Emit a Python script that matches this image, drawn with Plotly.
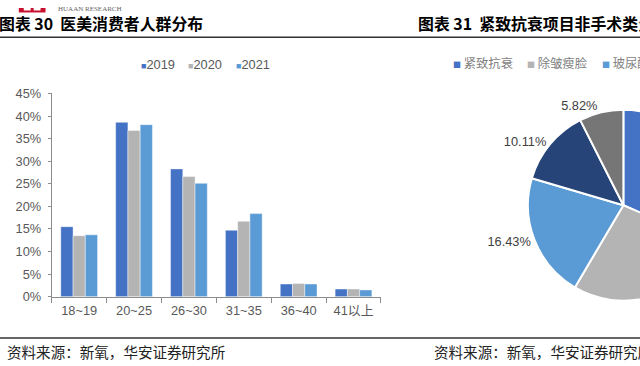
import plotly.graph_objects as go

# ---------------- data ----------------
age_groups = ["18~19", "20~25", "26~30", "31~35", "36~40", "41以上"]
share_2019 = [15.5, 38.6, 28.3, 14.7, 2.8, 1.7]
share_2020 = [13.5, 36.8, 26.6, 16.7, 2.9, 1.7]
share_2021 = [13.7, 38.1, 25.1, 18.4, 2.8, 1.5]
years = ["2019", "2020", "2021"]

pie_labels = ["紧致抗衰", "除皱瘦脸", "玻尿酸填充", "光子嫩肤", "其他"]
pie_values = [24.6, 21.0, 16.43, 10.11, 5.82]

y_ticks = [0, 5, 10, 15, 20, 25, 30, 35, 40, 45]

# ---------------- layout helpers ----------------
# The page is wider than the window (the right pie is cut by the window edge);
# positions below are given in window pixels and mapped to paper coordinates.
W, H = 760, 366
SX, SY, OY = 0.992, 0.965, 6.5
def px(x):
    return x / SX / W
def py(y):
    return 1 - (y - OY) / SY / H
FS = 1.025  # font compensation

bar_colors = ["#4472C4", "#B4B4B4", "#5B9BD5"]
pie_colors = ["#4472C4", "#B4B4B4", "#5B9BD5", "#264478", "#767676"]
FONT = "Liberation Sans, Arial, sans-serif"
CJK = "Noto Sans CJK SC"

fig = go.Figure()
for name, vals, col in zip(years, [share_2019, share_2020, share_2021], bar_colors):
    fig.add_trace(go.Bar(x=age_groups, y=vals, name=name, marker_color=col,
                         marker_line_width=0.6, marker_line_color="rgba(255,255,255,0.7)",
                         showlegend=False))

pcx, pcy, pr = 630 / SX, (205 - OY) / SY, 99.5
fig.add_trace(go.Pie(labels=pie_labels, values=pie_values, sort=False,
                     direction="clockwise", rotation=0,
                     marker=dict(colors=pie_colors, line=dict(color="white", width=2)),
                     texttemplate="%{value:.2f}%", textposition="outside",
                     textfont=dict(family=FONT, size=12.5 * FS, color="#404040"),
                     domain=dict(x=[(pcx - pr) / W, (pcx + pr) / W],
                                 y=[1 - (pcy + pr) / H, 1 - (pcy - pr) / H]),
                     showlegend=False, hoverinfo="label+value"))

fig.update_layout(
    width=W, height=H,
    margin=dict(l=0, r=0, t=0, b=0),
    paper_bgcolor="white", plot_bgcolor="white",
    barmode="group", bargap=0.33, bargroupgap=0,
    xaxis=dict(domain=[px(52.3), px(385)], showline=True, linecolor="#8C8C8C", linewidth=1,
               ticks="outside", tickson="boundaries", ticklen=5, tickcolor="#8C8C8C",
               ticklabelstandoff=2,
               tickfont=dict(family=FONT + ", " + CJK, size=12.5 * FS, color="#595959"),
               showgrid=False, fixedrange=True),
    yaxis=dict(domain=[py(297), py(92.5)], range=[0, 45], tickvals=y_ticks,
               ticktext=[f"{t}%" for t in y_ticks],
               showline=True, linecolor="#8C8C8C", linewidth=1,
               ticks="outside", ticklen=3, tickcolor="#8C8C8C", ticklabelstandoff=4,
               tickfont=dict(family=FONT, size=12.5 * FS, color="#595959"),
               showgrid=False, zeroline=False, fixedrange=True),
)

# legend for bar chart (manual, compact)
leg_x = [140, 188, 236]
for name, col, x0 in zip(years, bar_colors, leg_x):
    fig.add_annotation(x=px(x0), y=py(63), xref="paper", yref="paper", xanchor="left", yanchor="middle",
                       showarrow=False,
                       text=f'<span style="font-size:9px;color:{col}">■</span>{name}',
                       font=dict(family=FONT, size=12.5 * FS, color="#595959"))

# legend for pie (manual; only the entries that fit in the window)
pie_leg_x = [456, 531, 606]
for lab, col, x0 in zip(pie_labels[:3], pie_colors[:3], pie_leg_x):
    fig.add_annotation(x=px(x0), y=py(62), xref="paper", yref="paper", xanchor="left", yanchor="middle",
                       showarrow=False,
                       text=f'<span style="font-size:8px;color:{col}">■</span> {lab}',
                       font=dict(family=CJK, size=12 * FS, color="#7F7F7F"))

# titles
fig.add_annotation(x=px(-3), y=py(22.5), xref="paper", yref="paper", xanchor="left", yanchor="middle",
                   showarrow=False, text="<b>图表 30  医美消费者人群分布</b>",
                   font=dict(family=CJK, size=15.5 * FS, color="#000000"))
fig.add_annotation(x=px(420), y=py(22.5), xref="paper", yref="paper", xanchor="left", yanchor="middle",
                   showarrow=False, text="<b>图表 31  紧致抗衰项目非手术类分布</b>",
                   font=dict(family=CJK, size=15.5 * FS, color="#000000"))

# footers
fig.add_annotation(x=px(5), y=py(352), xref="paper", yref="paper", xanchor="left", yanchor="middle",
                   showarrow=False, text="资料来源：新氧，华安证券研究所",
                   font=dict(family=CJK, size=14.2 * FS, color="#222222"))
fig.add_annotation(x=px(437), y=py(352), xref="paper", yref="paper", xanchor="left", yanchor="middle",
                   showarrow=False, text="资料来源：新氧，华安证券研究所",
                   font=dict(family=CJK, size=14.2 * FS, color="#222222"))

# header logo + rules
fig.add_shape(type="rect", xref="paper", yref="paper", x0=px(19), x1=px(46), y0=py(11), y1=1,
              fillcolor="#C8102E", line_width=0)
fig.add_shape(type="rect", xref="paper", yref="paper", x0=px(24), x1=px(31), y0=py(9), y1=1,
              fillcolor="white", line_width=0)
fig.add_shape(type="rect", xref="paper", yref="paper", x0=px(34), x1=px(41), y0=py(9), y1=1,
              fillcolor="white", line_width=0)
fig.add_annotation(x=px(57), y=py(8), xref="paper", yref="paper", xanchor="left", yanchor="middle",
                   showarrow=False, text="HUAAN RESEARCH",
                   font=dict(family="Liberation Serif", size=7, color="#666666"))
fig.add_shape(type="line", xref="paper", yref="paper", x0=0, x1=1, y0=py(36), y1=py(36),
              line=dict(color="#333333", width=1.5))
fig.add_shape(type="line", xref="paper", yref="paper", x0=0, x1=1, y0=py(338.5), y1=py(338.5),
              line=dict(color="#333333", width=1.5))

fig.write_html("out.html",
               post_script="document.body.style.margin='0';document.body.style.overflow='hidden';document.documentElement.style.overflow='hidden';")
